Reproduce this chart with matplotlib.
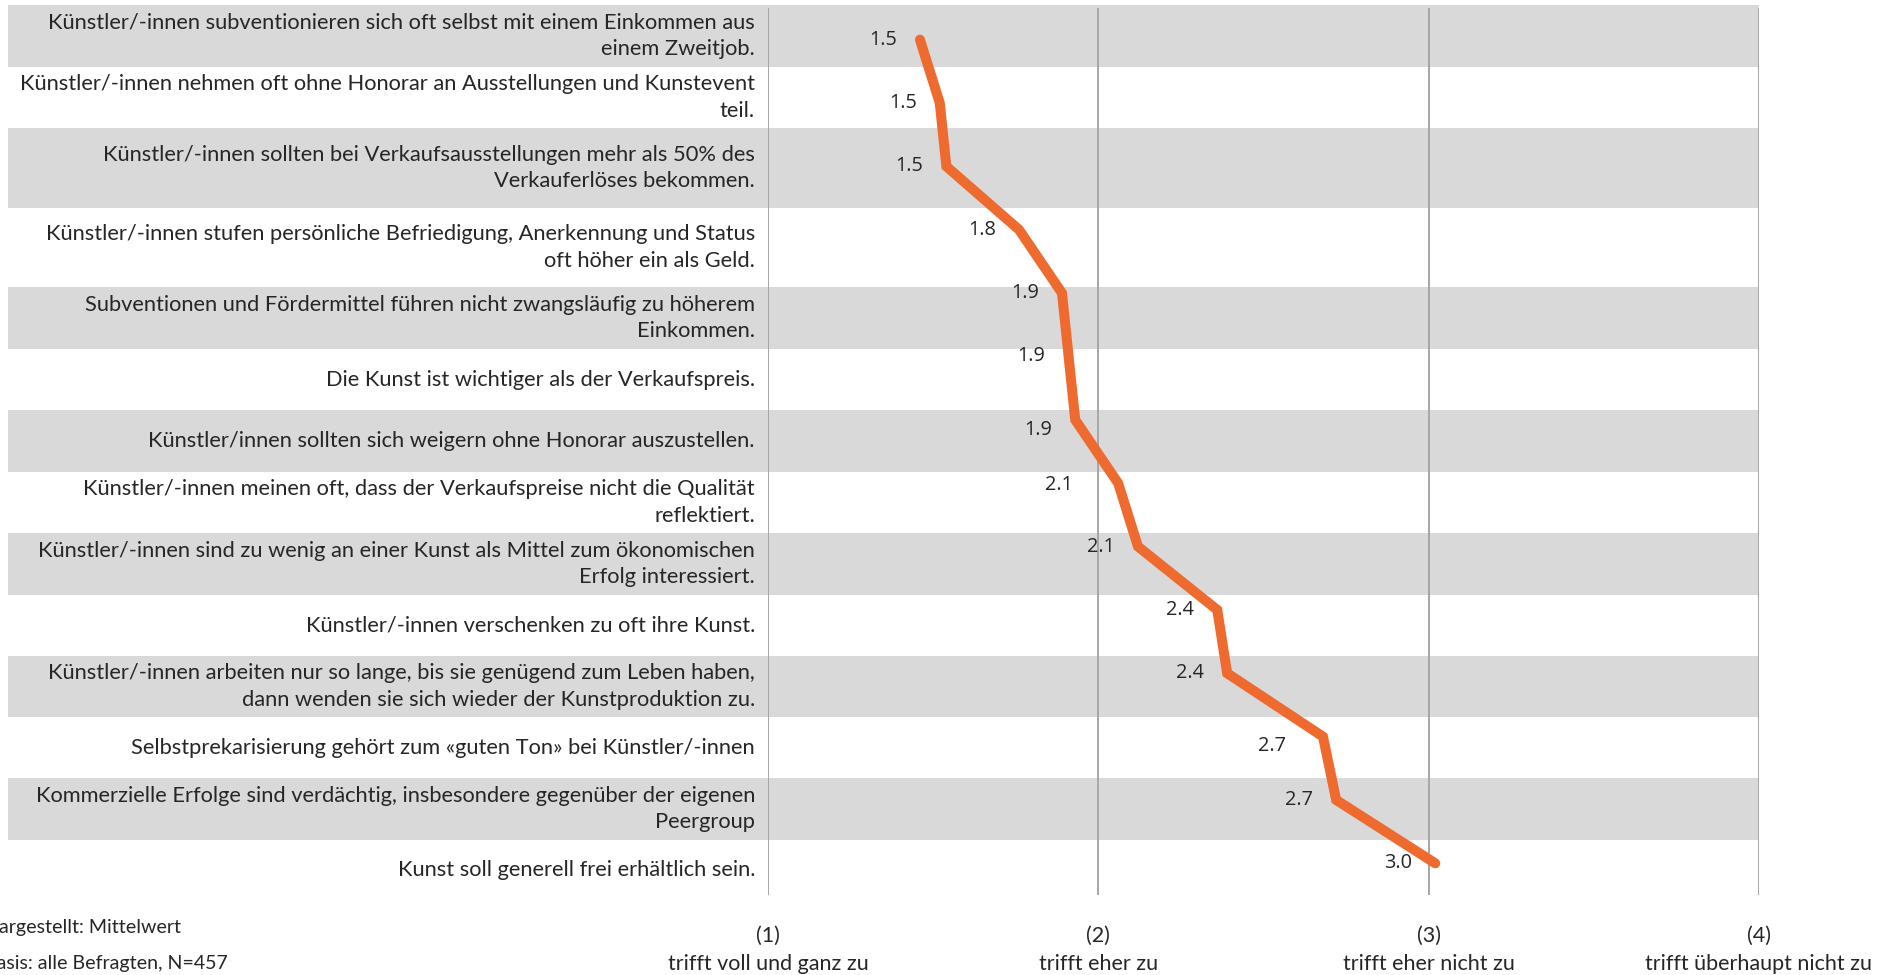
import matplotlib.pyplot as plt

statements = [
    "Künstler/-innen subventionieren sich oft selbst mit einem Einkommen aus\neinem Zweitjob.",
    "Künstler/-innen nehmen oft ohne Honorar an Ausstellungen und Kunstevent\nteil.",
    "Künstler/-innen sollten bei Verkaufsausstellungen mehr als 50% des\nVerkauferlöses bekommen.",
    "Künstler/-innen stufen persönliche Befriedigung, Anerkennung und Status\noft höher ein als Geld.",
    "Subventionen und Fördermittel führen nicht zwangsläufig zu höherem\nEinkommen.",
    "Die Kunst ist wichtiger als der Verkaufspreis.",
    "Künstler/innen sollten sich weigern ohne Honorar auszustellen.",
    "Künstler/-innen meinen oft, dass der Verkaufspreise nicht die Qualität\nreflektiert.",
    "Künstler/-innen sind zu wenig an einer Kunst als Mittel zum ökonomischen\nErfolg interessiert.",
    "Künstler/-innen verschenken zu oft ihre Kunst.",
    "Künstler/-innen arbeiten nur so lange, bis sie genügend zum Leben haben,\ndann wenden sie sich wieder der Kunstproduktion zu.",
    "Selbstprekarisierung gehört zum «guten Ton» bei Künstler/-innen",
    "Kommerzielle Erfolge sind verdächtig, insbesondere gegenüber der eigenen\nPeergroup",
    "Kunst soll generell frei erhältlich sein.",
]
means = [1.46, 1.52, 1.54, 1.76, 1.89, 1.91, 1.93, 2.06, 2.12, 2.36, 2.39, 2.68, 2.72, 3.02]

scale_ticks = [1, 2, 3, 4]
scale_labels = [
    "(1)\ntrifft voll und ganz zu",
    "(2)\ntrifft eher zu",
    "(3)\ntrifft eher nicht zu",
    "(4)\ntrifft überhaupt nicht zu",
]
notes = ["Dargestellt: Mittelwert", "Basis: alle Befragten, N=457"]

# layout of the table rows behind the chart (figure pixels)
W, H = 1890, 975
row_edges = [5, 67, 128, 208, 287, 349, 410, 472, 533, 595, 656, 717, 778, 840, 901]
band_x0, band_x1 = 8, 1759
text_right = 755
# label nudges (pixels) where the data label sits off its default spot
nudge = {6: (0, 10), 7: (-22, 2), 11: (-14, 9)}

orange = "#EE6A2F"
grid_col = "#A6A6A6"
band_col = "#D9D9D9"
txt_col = "#262626"

fig = plt.figure(figsize=(W / 100, H / 100), dpi=100)

# background: table rows + statements
bg = fig.add_axes([0, 0, 1, 1], zorder=0)
bg.set_xlim(0, W)
bg.set_ylim(H, 0)
bg.axis("off")
for i, text in enumerate(statements):
    top, bot = row_edges[i], row_edges[i + 1]
    if i % 2 == 0:
        bg.fill_between([band_x0, band_x1], top, bot, color=band_col, lw=0)
    bg.text(text_right, (top + bot) / 2, text, ha="right", va="center",
            fontsize=15.75, family="Lato", color=txt_col, linespacing=1.42)

# notes are cut at the left edge in the original, too
bg.text(-16, 928, notes[0], ha="left", va="center", fontsize=14.1,
        family="Lato", color=txt_col)
bg.text(-16, 964, notes[1], ha="left", va="center", fontsize=14.1,
        family="Lato", color=txt_col)

# chart
left, right, top, bottom = 768, 1759, 8, 895
ax = fig.add_axes([left / W, 1 - bottom / H, (right - left) / W, (bottom - top) / H], zorder=1)
ax.set_facecolor("none")
n = len(means)
ypos = [i + 0.5 for i in range(n)]
ax.plot(means, ypos, color=orange, lw=7.2, solid_capstyle="round",
        solid_joinstyle="miter", zorder=3)
for i, (v, y) in enumerate(zip(means, ypos)):
    dx, dy = nudge.get(i, (0, 0))
    ax.annotate(f"{v:.1f}", (v, y), xytext=(-23 + dx, -dy), textcoords="offset pixels",
                ha="right", va="center", fontsize=14.3, family="Open Sans",
                color=txt_col, zorder=4)

ax.set_xlim(1, 4)
ax.set_ylim(n, 0)
ax.set_xticks(scale_ticks)
ax.set_xticklabels(scale_labels, fontsize=15.5, family="Lato", color=txt_col, linespacing=1.55)
ax.set_yticks([])
ax.tick_params(axis="x", length=0, pad=22)
ax.grid(axis="x", color=grid_col, lw=1.4, zorder=1)
for s in ax.spines.values():
    s.set_visible(False)

fig.savefig("out.png", dpi=100)
